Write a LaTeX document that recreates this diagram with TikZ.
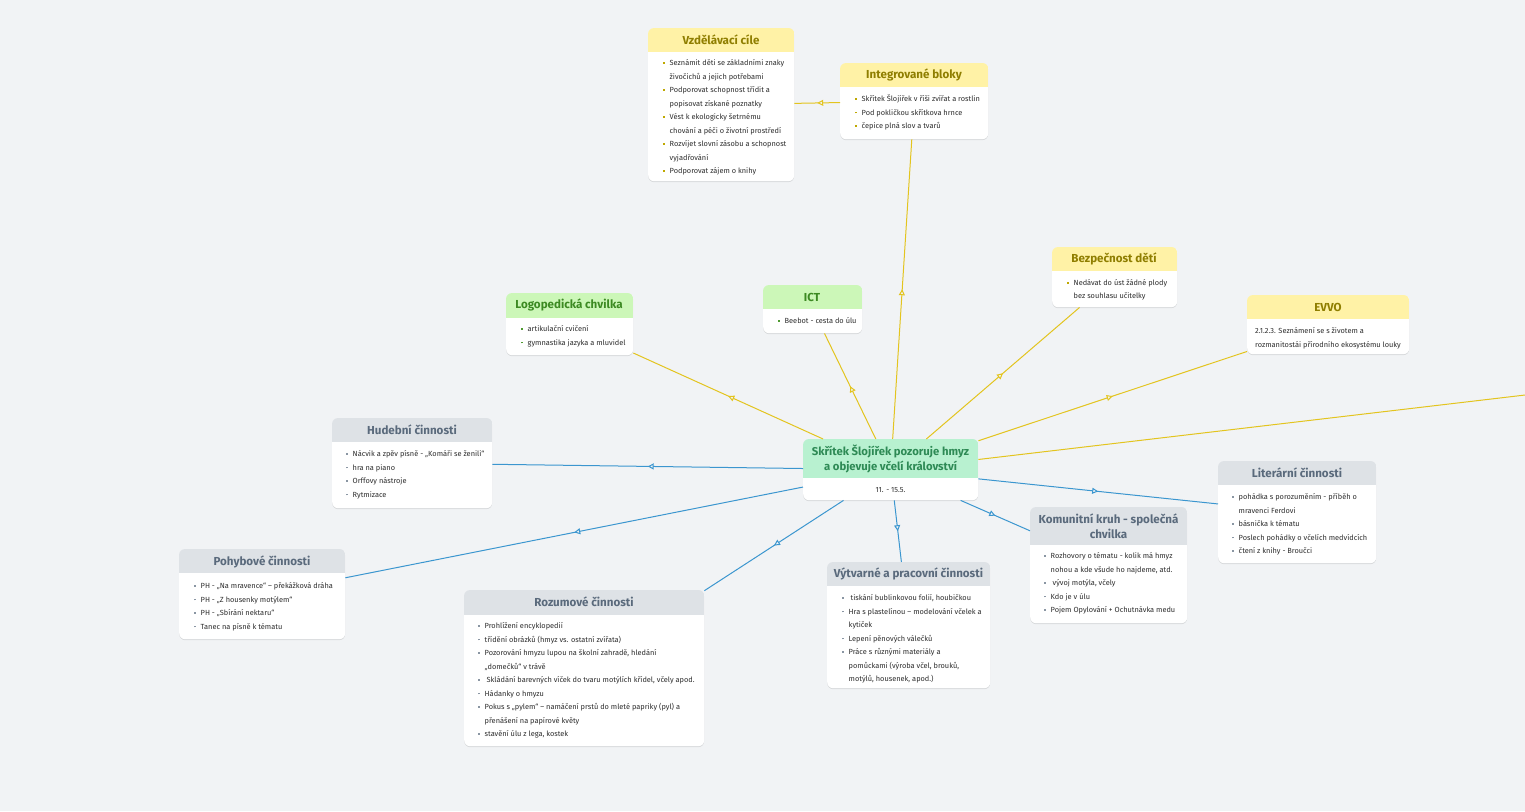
\documentclass[tikz,border=0pt]{standalone}
\usepackage{fontspec}
\setmainfont{Fira Sans}
\usetikzlibrary{arrows.meta,decorations.markings,shadows,calc}
\definecolor{bg}{HTML}{F1F3F5}
\definecolor{yH}{HTML}{FFF2A6}
\definecolor{yT}{HTML}{8F7E00}
\definecolor{yB}{HTML}{BFA800}
\definecolor{gH}{HTML}{CCF7B8}
\definecolor{gT}{HTML}{3C8A22}
\definecolor{gB}{HTML}{4E9A30}
\definecolor{cH}{HTML}{B8F1D0}
\definecolor{cT}{HTML}{2E8A55}
\definecolor{sH}{HTML}{DEE2E6}
\definecolor{sT}{HTML}{5A6A7C}
\definecolor{sB}{HTML}{8A96A3}
\definecolor{tx}{HTML}{2E2E2E}
\definecolor{yL}{HTML}{E3C41E}
\definecolor{bL}{HTML}{3B96CF}
\newcommand\cardbox[7]{%
  \node[card, minimum width=#4pt, minimum height=#5pt, anchor=north west] (#1) at (#2,#3) {};
  \begin{scope}
    \clip[rounded corners=6pt] (#1.south west) rectangle (#1.north east);
    \fill[#7] (#1.north west) rectangle ([yshift=-#6pt]#1.north east);
  \end{scope}}
\newcommand\bl[1]{\makebox[7pt][l]{\textcolor{#1}{\rule[1.6pt]{1.9pt}{1.9pt}}}}
\newcommand\ind{\hspace*{7pt}}
\newcommand\st{\rule{0pt}{7.5pt}}
\begin{document}
\begin{tikzpicture}[x=1pt,y=-1pt,
  card/.style={fill=white, rounded corners=6pt, inner sep=0pt,
    drop shadow={shadow xshift=0pt, shadow yshift=-1pt, opacity=0.10, fill=black}},
  ttl/.style={font=\fontsize{11.6}{15}\selectfont\bfseries, align=center, inner sep=0pt},
  body/.style={anchor=north west, inner sep=0pt, align=left, text=tx,
    font=\fontsize{7.4}{13.5}\selectfont},
  midarrow/.style={postaction={decorate}, decoration={markings,
    mark=at position 0.5 with {\arrow{Triangle[length=6pt,width=6pt,fill=bg]}}}},
  yline/.style={draw=yL, line width=1pt},
  bline/.style={draw=bL, line width=1pt}]
\fill[bg] (0,0) rectangle (1525,811);
\useasboundingbox (0,0) rectangle (1525,811);

% ---------- cards ----------
\cardbox{vzd}{648}{28}{146}{153}{24}{yH}
\node[ttl, text=yT] (vzd-t) at (721,40) {Vzdělávací cíle};
\node[body] (vzd-b) at (662.5,57.8) {\st\bl{yB}Seznámit děti se základními znaky\\
\ind živočichů a jejich potřebami\\
\bl{yB}Podporovat schopnost třídit a\\
\ind popisovat získané poznatky\\
\bl{yB}Vést k ekologicky šetrnému\\
\ind chování a péči o životní prostředí\\
\bl{yB}Rozvíjet slovní zásobu a schopnost\\
\ind vyjadřování\\
\bl{yB}Podporovat zájem o knihy};

\cardbox{integ}{840}{63}{148}{76}{24}{yH}
\node[ttl, text=yT] (integ-t) at (914,75) {Integrované bloky};
\node[body] (integ-b) at (854.5,93.8) {\st\bl{yB}Skřítek Šlojířek v říši zvířat a rostlin\\
\bl{yB}Pod pokličkou skřítkova hrnce\\
\bl{yB}čepice plná slov a tvarů};

\cardbox{bezp}{1052}{247}{125}{60}{24}{yH}
\node[ttl, text=yT] (bezp-t) at (1114,259) {Bezpečnost dětí};
\node[body, font=\fontsize{7.4}{12.5}\selectfont] (bezp-b) at (1066.5,277.8) {\st\bl{yB}Nedávat do úst žádné plody\\
\ind bez souhlasu učitelky};

\cardbox{evvo}{1247}{295}{162}{59}{24}{yH}
\node[ttl, text=yT] (evvo-t) at (1328,307) {EVVO};
\node[body] (evvo-b) at (1255,325.8) {\st 2.1.2.3. Seznámení se s životem a\\
rozmanitostái přírodního ekosystému louky};

\cardbox{logo}{506}{293}{127}{62}{25}{gH}
\node[ttl, text=gT] (logo-t) at (569,305) {Logopedická chvilka};
\node[body] (logo-b) at (520.5,323.8) {\st\bl{gB}artikulační cvičení\\
\bl{gB}gymnastika jazyka a mluvidel};

\cardbox{ict}{763}{285}{99}{48}{24}{gH}
\node[ttl, text=gT] (ict-t) at (812,297) {ICT};
\node[body] (ict-b) at (777.5,315.8) {\st\bl{gB}Beebot - cesta do úlu};

\cardbox{cen}{803}{439}{175}{61}{39}{cH}
\node[ttl, text=cT, font=\fontsize{11.3}{14.5}\selectfont\bfseries] (cen-t) at (890.5,459) {Skřítek Šlojířek pozoruje hmyz\\a objevuje včelí království};
\node[body, anchor=center] (cen-b) at (890.5,490) {11. - 15.5.};

\cardbox{hud}{332}{418}{160}{90}{24}{sH}
\node[ttl, text=sT] (hud-t) at (412,430) {Hudební činnosti};
\node[body] (hud-b) at (345.5,448.8) {\st\bl{sB}Nácvik a zpěv písně - „Komáři se ženili“\\
\bl{sB}hra na piano\\
\bl{sB}Orffovy nástroje\\
\bl{sB}Rytmizace};

\cardbox{lit}{1218}{461}{158}{102}{24}{sH}
\node[ttl, text=sT] (lit-t) at (1297,473) {Literární činnosti};
\node[body] (lit-b) at (1231.5,491.8) {\st\bl{sB}pohádka s porozuměním - příběh o\\
\ind mravenci Ferdovi\\
\bl{sB}básnička k tématu\\
\bl{sB}Poslech pohádky o včelích medvídcích\\
\bl{sB}čtení z knihy - Broučci};

\cardbox{poh}{179}{549}{166}{90}{24}{sH}
\node[ttl, text=sT] (poh-t) at (262,562) {Pohybové činnosti};
\node[body] (poh-b) at (193.5,580.8) {\st\bl{sB}PH -  „Na mravence“ – překážková dráha\\
\bl{sB}PH - „Z housenky motýlem“\\
\bl{sB}PH - „Sbírání nektaru“\\
\bl{sB}Tanec na písně k tématu};

\cardbox{roz}{464}{590}{240}{156}{25}{sH}
\node[ttl, text=sT] (roz-t) at (584,602) {Rozumové činnosti};
\node[body] (roz-b) at (477.5,620.8) {\st\bl{sB}Prohlížení encyklopedií\\
\bl{sB}třídění obrázků (hmyz vs. ostatní zvířata)\\
\bl{sB}Pozorování hmyzu lupou na školní zahradě, hledání\\
\ind „domečků“ v trávě\\
\bl{sB} Skládání barevných víček do tvaru motýlích křídel, včely apod.\\
\bl{sB}Hádanky o hmyzu\\
\bl{sB}Pokus s „pylem“ – namáčení prstů do mleté papriky (pyl) a\\
\ind přenášení na papírové květy\\
\bl{sB}stavění úlu z lega, kostek};

\cardbox{vyt}{827}{562}{163}{126}{24}{sH}
\node[ttl, text=sT] (vyt-t) at (908.5,574) {Výtvarné a pracovní činnosti};
\node[body] (vyt-b) at (841.5,592.8) {\st\bl{sB} tiskání bublinkovou folií, houbičkou\\
\bl{sB}Hra s plastelínou – modelování včelek a\\
\ind kytiček\\
\bl{sB}Lepení pěnových válečků\\
\bl{sB}Práce s různými materiály a\\
\ind pomůckami (výroba včel, brouků,\\
\ind motýlů, housenek, apod.)};

\cardbox{kom}{1030}{507}{157}{116}{38}{sH}
\node[ttl, text=sT] (kom-t) at (1108.5,526) {Komunitní kruh - společná\\chvilka};
\node[body] (kom-b) at (1043.5,550.8) {\st\bl{sB}Rozhovory o tématu - kolik má hmyz\\
\ind nohou a kde všude ho najdeme, atd.\\
\bl{sB} vývoj motýla, včely\\
\bl{sB}Kdo je v úlu\\
\bl{sB}Pojem Opylování + Ochutnávka medu};

\coordinate (offr) at (1560,390.9);

% ---------- connectors ----------
\draw[yline, midarrow] (cen) -- (logo);
\draw[yline, midarrow] (cen) -- (ict);
\draw[yline, midarrow] (cen) -- (integ);
\draw[yline, midarrow] (integ) -- (vzd);
\draw[yline, midarrow] (cen) -- (bezp);
\draw[yline, midarrow] (cen) -- (evvo);
\draw[yline] (cen) -- (offr);
\draw[bline, midarrow] (cen) -- (hud);
\draw[bline, midarrow] (cen) -- (poh);
\draw[bline, midarrow] (cen) -- (roz);
\draw[bline, midarrow] (cen) -- (vyt);
\draw[bline, midarrow] (cen) -- (kom);
\draw[bline, midarrow] (cen) -- (lit);
\end{tikzpicture}
\end{document}
